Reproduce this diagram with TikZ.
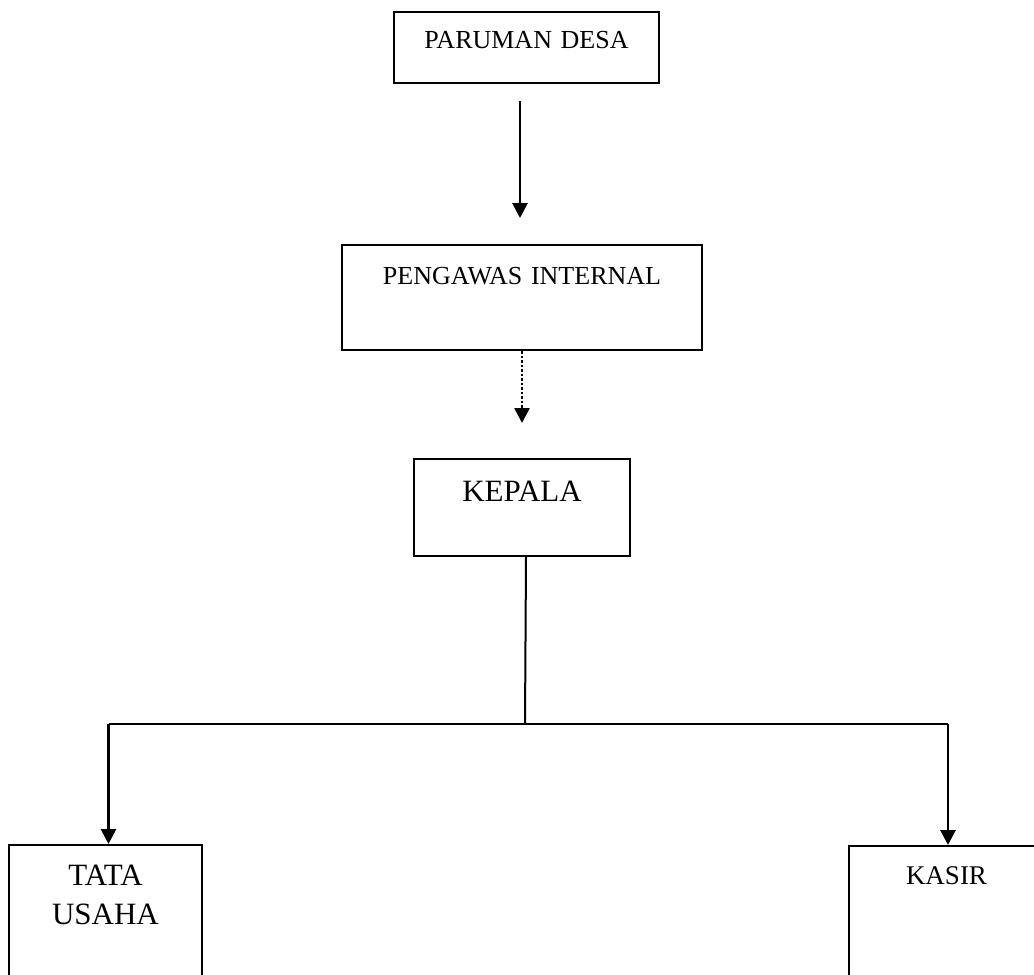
\documentclass[tikz,border=0pt]{standalone}
\usepackage{fontspec}
\setmainfont{Liberation Serif}
\usetikzlibrary{arrows.meta}
\begin{document}
\begin{tikzpicture}[x=1pt,y=-1pt,
  box/.style={draw,line width=2pt,inner sep=0pt,align=center,anchor=north west},
  arr/.style={line width=2.8pt,-{Triangle[width=15pt,length=15pt]}},
  dotarr/.style={line width=2.6pt,dash pattern=on 2.5pt off 2pt,-{Triangle[width=15pt,length=15pt]}},
  conn/.style={line width=2pt}]
\clip (0,0) rectangle (1034,975);
\node[box,text width=265pt,text height=36pt,text depth=35pt,font=\fontsize{26}{30}\selectfont] (par) at (393,11) {PARUMAN DESA};
\node[box,text width=360pt,text height=39pt,text depth=66pt,font=\fontsize{26}{30}\selectfont] (peng) at (341,244) {PENGAWAS INTERNAL};
\node[box,text width=216pt,text height=42pt,text depth=55pt,font=\fontsize{31}{36}\selectfont] (kep) at (413,458) {KEPALA};
\node[box,text width=193pt,text height=40pt,text depth=116pt,font=\fontsize{31}{39}\selectfont] (tu) at (8,844) {TATA\\USAHA};
\node[box,text width=195pt,text height=38pt,text depth=117pt,font=\fontsize{27}{32}\selectfont] (ks) at (848,845) {KASIR};
\draw[arr,shorten <=17pt,shorten >=26pt] ([xshift=-6.5pt]par.south) -- ([xshift=-2pt]peng.north);
\draw[dotarr,shorten >=35pt] (peng.south) -- (kep.north);
\coordinate (bus) at (525,724);
\coordinate (tutop) at ([xshift=3pt]tu.north);
\coordinate (kstop) at ([xshift=1.5pt]ks.north);
\coordinate (bl) at (tutop |- bus);
\coordinate (br) at (kstop |- bus);
\draw[conn] ([xshift=4pt]kep.south) -- (bus);
\draw[conn] (bl) -- (br);
\draw[arr] (bl) -- (tutop);
\draw[arr] (br) -- (kstop);
\end{tikzpicture}
\end{document}
